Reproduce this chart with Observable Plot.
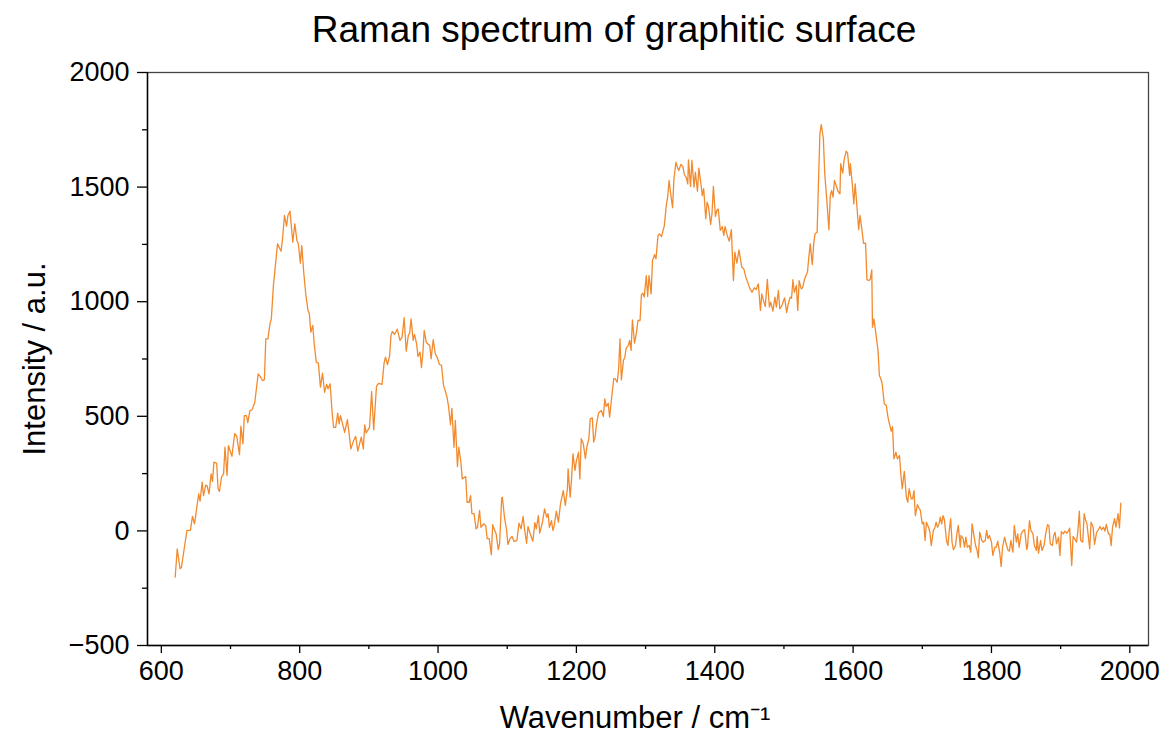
<!DOCTYPE html>
<html>
<head>
<meta charset="utf-8">
<script src="https://cdn.jsdelivr.net/npm/d3@7"></script>
<script src="https://cdn.jsdelivr.net/npm/@observablehq/plot@0.6"></script>
<style>
  body { margin: 0; background: #fff; font-family: "Liberation Sans", Arial, sans-serif; }
  #title { width: 1166px; height: 40px; box-sizing: border-box; padding-left: 62px; text-align: center;
           font-size: 37px; line-height: 60px; color: #000; overflow: visible; }
  svg { display: block; overflow: visible; }
</style>
</head>
<body>
<div id="title">Raman spectrum of graphitic surface</div>
<div id="chart"></div>
<script>
const wavenumber = [
620,623,627,629,637,642,645,648,654,656,659,661,664,666,669,672,674,676,680,682,684,687,690,692,695,697,702,706,709,713,715,718,720,723,725,728,731,735,740,743,746,749,751,754,757,759,
762,768,773,775,778,781,783,786,790,793,796,798,801,803,806,809,812,814,816,819,821,824,827,830,833,836,839,841,844,847,849,852,855,857,859,865,869,874,878,881,884,889,892,894,896,901,904,907,911,914,919,922,924,927,930,932,934,937,941,
945,948,951,954,957,959,961,964,966,969,971,974,976,978,980,983,985,988,990,993,996,999,1002,1005,1008,1010,1013,1015,1018,1020,1023,1025,1028,1030,1033,1035,1040,1042,1045,1047,1049,1052,1055,1057,1060,1062,1066,1069,1071,1074,1077,1079,1081,1084,1087,1089,1092,1093,1096,1099,1101,1104,1107,1110,1114,1117,1120,1123,1125,1128,1130,
1133,1137,1140,1142,1145,1147,1151,1154,1157,1159,1161,1164,1166,1168,1171,1174,1177,1181,1184,1187,1188,1191,1193,1195,1198,1200,1203,1205,1207,1210,1213,1215,1218,1220,1223,1225,1227,1229,1232,1236,1239,1241,1243,1246,1248,1251,1254,1256,1259,1261,1263,1265,1268,1270,1272,1275,1277,1279,1281,1284,1287,1289,1292,1294,1296,1298,1301,1303,1305,1308,1310,1313,1315,1318,1320,1323,1327,1330,1332,1334,
1336,1339,1341,1344,1346,1348,1351,1354,1356,1359,1361,1362,1365,1367,1370,1372,1375,1377,1380,1382,1384,1387,1389,1391,1394,1396,1398,1401,1403,1405,1408,1411,1413,1415,1418,1421,1424,1427,1429,1432,1435,1439,1442,1445,1448,1451,1454,1457,1460,1463,1466,1468,1471,1473,1476,1479,1481,1484,1487,1489,1492,1494,1497,1501,1504,1506,1509,1511,1513,1515,1518,1520,1522,
1525,1527,1530,1533,1534,1536,1538,1541,1543,1545,1548,1550,1552,1554,1557,1559,1562,1565,1567,1569,1571,1573,1576,1578,1581,1582,1585,1587,1590,1592,1595,1596,1599,1601,1603,1606,1608,1610,1613,1615,1618,1620,1623,1625,1627,1628,1630,1633,1636,1638,1640,1642,1645,1648,1650,1652,1655,1657,1659,1662,1664,1667,1669,1671,1674,1677,1679,1681,1684,1686,1688,1690,1693,1695,1697,
1700,1702,1704,1706,1709,1711,1713,1716,1718,1720,1722,1724,1726,1728,1730,1732,1735,1737,1739,1741,1743,1745,1748,1750,1752,1755,1756,1759,1761,1763,1765,1768,1770,1772,1775,1777,1779,1781,1783,1786,1788,1791,1793,1795,1797,1800,1802,1805,1807,1809,1812,1814,1816,1819,1821,1824,1826,1828,1831,1833,1836,1838,1840,
1843,1846,1848,1851,1852,1855,1857,1860,1862,1865,1866,1868,1871,1873,1876,1878,1881,1883,1885,1888,1890,1892,1894,1897,1899,1901,1904,1906,1909,1911,1913,1916,1918,1920,1923,1925,1927,1929,1932,1934,1936,1938,1942,1944,1947,1949,1952,1954,1957,1959,1962,1964,1966,1969,1971,1973,1975,1978,1980,1983,1985,1987
];
const intensity = [
-202,-78,-165,-160,2,2,63,31,162,130,213,154,198,198,162,249,216,300,295,184,172,234,249,365,242,372,325,424,412,333,457,380,503,503,472,525,528,559,685,674,656,660,838,838,902,925,
1070,1253,1220,1267,1376,1330,1376,1395,1260,1340,1267,1253,1168,1245,1122,1027,962,947,867,896,816,736,732,627,688,605,639,620,642,511,452,452,514,467,503,430,485,358,394,413,348,409,358,463,428,452,608,441,631,644,639,732,758,725,765,853,870,857,880,
831,845,930,784,853,863,925,831,857,816,761,780,712,773,875,823,816,809,751,834,773,755,726,722,634,616,583,547,463,535,365,482,281,365,300,227,237,125,125,154,75,75,9,16,89,16,31,24,-34,-34,-104,27,9,-13,-82,-56,144,147,60,5,-59,-34,-24,-46,-42,34,9,63,9,-54,19,
-10,-45,36,9,67,-10,38,96,60,75,16,45,2,24,86,38,118,176,111,184,271,147,227,336,264,307,343,227,402,380,315,365,402,489,493,387,409,464,514,525,499,576,543,557,496,583,664,664,649,703,838,659,743,758,797,809,831,787,921,819,867,918,918,1030,1037,1020,1114,1023,1114,1034,1180,1205,1187,1289,1296,1284,1330,1420,1459,1529,
1478,1410,1536,1609,1587,1572,1599,1590,1555,1540,1514,1619,1503,1616,1500,1565,1482,1583,1514,1463,1493,1362,1434,1415,1337,1383,1503,1372,1398,1405,1311,1328,1289,1328,1289,1264,1314,1092,1216,1168,1226,1151,1143,1107,1081,1056,1041,1061,1053,1078,962,1034,998,979,1097,976,998,959,1020,976,1049,969,983,1017,952,988,1020,1015,1096,1041,1071,962,1092,
1056,1061,1100,1122,1129,1194,1253,1162,1253,1296,1303,1529,1733,1773,1711,1558,1442,1314,1463,1485,1456,1529,1503,1482,1471,1602,1561,1619,1657,1648,1551,1602,1507,1427,1514,1398,1314,1376,1308,1255,1255,1096,1092,1100,1139,889,925,860,787,678,664,642,555,547,503,474,435,455,314,343,314,329,249,184,260,147,125,184,140,140,176,67,115,101,92,
31,38,-42,38,16,-6,-64,2,12,38,16,28,60,31,67,48,-42,-64,2,53,-49,-82,-64,-13,24,-71,-20,-34,-71,-27,-71,-64,-93,31,-27,-64,-82,-117,-6,-42,-49,-42,2,-34,-20,-49,-107,-71,-71,-45,-97,-155,-71,-27,-54,-85,-88,-42,-93,24,-49,-13,-71,
-13,2,5,-82,-71,45,2,-13,-64,-85,-24,-97,-42,-85,-64,-20,27,24,-56,-64,-20,-6,-56,-27,-107,-3,-13,-1,-10,-1,12,-151,-24,-34,-49,2,86,-42,-49,75,48,31,-78,38,16,-59,-6,2,19,5,16,-1,28,-13,-13,-64,16,53,16,75,13,121
];
const xMajorTicks = [600, 800, 1000, 1200, 1400, 1600, 1800, 2000];
const xMinorTicks = [700, 900, 1100, 1300, 1500, 1700, 1900];
const yMajorTicks = [-500, 0, 500, 1000, 1500, 2000];
const yMinorTicks = [-250, 250, 750, 1250, 1750];
const xLabel = "Wavenumber / cm⁻¹";
const yLabel = "Intensity / a.u.";

const data = wavenumber.map((x, i) => ({x, y: intensity[i]}));
const fmt = d => d < 0 ? "\u2212" + Math.abs(d) : String(d);

const chart = Plot.plot({
  width: 1166,
  height: 694,
  marginTop: 32,
  marginBottom: 89,
  marginLeft: 147,
  marginRight: 18,
  style: {fontFamily: "'Liberation Sans', Arial, sans-serif", color: "#000", background: "#fff", overflow: "visible"},
  x: {domain: [580, 2027]},
  y: {domain: [-500, 2000]},
  marks: [
    Plot.frame({stroke: "#444", strokeWidth: 1.3}),
    Plot.axisX({ticks: xMajorTicks, tickSize: 8, tickPadding: 7, fontSize: 27, tickFormat: fmt, label: null, strokeWidth: 1.3}),
    Plot.axisX({ticks: xMinorTicks, tickSize: 4, text: null, label: null, strokeWidth: 1.3}),
    Plot.axisY({ticks: yMajorTicks, tickSize: 10, tickPadding: 8, fontSize: 27, tickFormat: fmt, label: null, strokeWidth: 1.3}),
    Plot.axisY({ticks: yMinorTicks, tickSize: 5, text: null, label: null, strokeWidth: 1.3}),
    Plot.ruleX([580], {stroke: "#000", strokeWidth: 1.4}),
    Plot.ruleY([-500], {stroke: "#000", strokeWidth: 1.4}),
    Plot.line(data, {x: "x", y: "y", stroke: "#f28a2e", strokeWidth: 1.3}),
    Plot.text([xLabel], {frameAnchor: "bottom", dx: -13, dy: 73, fontSize: 31, lineAnchor: "middle", textAnchor: "middle"}),
    Plot.text([yLabel], {frameAnchor: "left", dx: -112, rotate: -90, fontSize: 31, lineAnchor: "middle", textAnchor: "middle"})
  ]
});
document.getElementById("chart").append(chart);
</script>
</body>
</html>
